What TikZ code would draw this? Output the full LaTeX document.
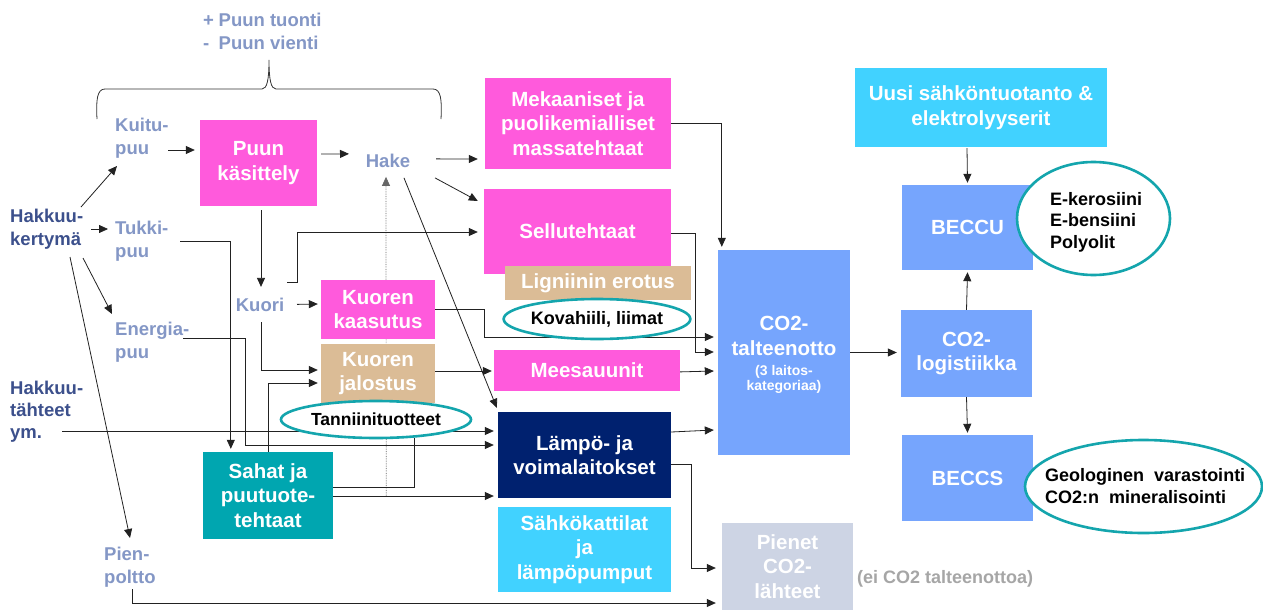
\documentclass[tikz,border=0pt]{standalone}
\usepackage{fontspec}
\setmainfont{Liberation Sans}
\usetikzlibrary{arrows.meta,shapes.geometric}
\definecolor{cMag}{HTML}{FF5ADC}
\definecolor{cTan}{HTML}{DBBC96}
\definecolor{cNavy}{HTML}{00216F}
\definecolor{cCyan}{HTML}{41D2FF}
\definecolor{cTeal}{HTML}{00A6B0}
\definecolor{cBlue}{HTML}{76A5FD}
\definecolor{cPale}{HTML}{CDD4E4}
\definecolor{cRing}{HTML}{14A5AD}
\definecolor{cLbl}{HTML}{8497C6}
\definecolor{cDark}{HTML}{3C508C}
\definecolor{cGrayT}{HTML}{A6A6A6}
\definecolor{cLine}{HTML}{222222}
\pgfdeclarelayer{bg}
\pgfsetlayers{bg,main}
\begin{document}
\begin{tikzpicture}[x=1pt,y=-1pt,
  box/.style={inner sep=0pt, align=center, text=white, font=\bfseries\fontsize{20.5}{24.5}\selectfont},
  lbl/.style={inner sep=0pt, align=left, text=cLbl, font=\bfseries\fontsize{18.5}{22.5}\selectfont, anchor=west},
  dlbl/.style={lbl, text=cDark},
  ring/.style={ellipse, draw=cRing, line width=2.6pt, fill=white, inner sep=0pt},
  ringtxt/.style={inner sep=0pt, align=left, text=black, font=\bfseries\fontsize{18}{21.5}\selectfont},
  arr/.style={draw=cLine, line width=0.8pt, -{Triangle[length=9pt,width=8pt]}},
  plain/.style={draw=cLine, line width=0.8pt},
  dots/.style={draw=black!60, line width=0.7pt, densely dotted, -{Triangle[length=9pt,width=8pt]}}
]
\path[use as bounding box] (0,0) rectangle (1263,610);

% ---------- labels ----------
\node[lbl, anchor=west] (tuonti) at (203,31.5) {\makebox[15.5pt][l]{+}Puun tuonti\\\makebox[15.5pt][l]{-}Puun vienti};
\draw[plain, draw=black!80] (97,119) .. controls (96,100) and (97,89) .. (105,89) -- (262,89) .. controls (267,89) and (269,80) .. (269,60) .. controls (269,80) and (271,89) .. (276,89) -- (433,89) .. controls (441,89) and (442,100) .. (441,119);

\node[dlbl] (hk1) at (10,229) {Hakkuu-\\kertymä};
\node[dlbl, font=\bfseries\fontsize{18.5}{22}\selectfont] (hk2) at (10,412) {Hakkuu-\\tähteet\\ym.};
\node[lbl] (kuitu) at (115,138) {Kuitu-\\puu};
\node[lbl] (tukki) at (115,241) {Tukki-\\puu};
\node[lbl] (energia) at (115,342) {Energia-\\puu};
\node[lbl] (pien) at (104,567) {Pien-\\poltto};
\node[lbl, anchor=base] (hake) at (388,167) {Hake};
\node[lbl, anchor=base] (kuori) at (260,311) {Kuori};

% ---------- boxes ----------
\node[box, fill=cMag, minimum width=117pt, minimum height=86pt] (puu) at (258.5,163) {Puun\\käsittely};
\node[box, fill=cMag, minimum width=186pt, minimum height=91pt] (mek) at (578,123.5) {Mekaaniset ja\\puolikemialliset\\massatehtaat};
\node[box, fill=cMag, minimum width=187pt, minimum height=85pt] (sellu) at (577.5,231.5) {Sellutehtaat};
\node[box, fill=cTan, minimum width=186pt, minimum height=34pt] (lign) at (598,283) {Ligniinin erotus};
\node[ring, minimum width=168pt, minimum height=40pt, font=\bfseries\fontsize{18}{21}\selectfont] (kova) at (597,319) {Kovahiili, liimat};
\node[box, fill=cMag, minimum width=114pt, minimum height=59pt] (kkaas) at (378,309.5) {Kuoren\\kaasutus};
\node[box, fill=cTan, minimum width=114pt, minimum height=59pt] (kjal) at (378,373.5) {Kuoren\\jalostus};
\node[ring, minimum width=190pt, minimum height=37pt, font=\bfseries\fontsize{17.5}{21}\selectfont] (tanni) at (376,419.5) {Tanniinituotteet};
\node[box, fill=cMag, minimum width=186pt, minimum height=41pt] (mees) at (587,370.5) {Meesauunit};
\node[box, fill=cNavy, minimum width=173pt, minimum height=86pt] (lampo) at (584.5,455) {Lämpö- ja\\voimalaitokset};
\node[box, fill=cCyan, minimum width=173pt, minimum height=85pt] (sahko) at (584.5,549.5) {Sähkökattilat\\ja\\lämpöpumput};
\node[box, fill=cTeal, minimum width=130pt, minimum height=87pt] (sahat) at (268,495.5) {Sahat ja\\puutuote-\\tehtaat};
\node[box, fill=cBlue, minimum width=132pt, minimum height=205pt] (co2t) at (784,352.5) {};
\node[box] (co2ta) at (784,336) {CO2-\\talteenotto};
\node[box, font=\bfseries\fontsize{14}{15}\selectfont] (co2tb) at (784,379) {(3 laitos-\\kategoriaa)};
\node[box, fill=cPale, minimum width=131pt, minimum height=87pt] (pienet) at (787.5,566.5) {Pienet\\CO2-\\lähteet};
\node[lbl, anchor=base west, text=cGrayT, font=\bfseries\fontsize{18}{22}\selectfont] (eico) at (857,583) {(ei CO2 talteenottoa)};
\node[box, fill=cCyan, minimum width=252pt, minimum height=79pt] (uusi) at (981,107.5) {Uusi sähköntuotanto \&\\elektrolyyserit};
\node[box, fill=cBlue, minimum width=131pt, minimum height=85pt] (beccu) at (967.5,227.5) {BECCU};
\node[ring, minimum width=153pt, minimum height=113pt] (ring1) at (1093.5,218.5) {};
\node[ringtxt, anchor=west] (ring1t) at (1050,222) {E-kerosiini\\E-bensiini\\Polyolit};
\node[box, fill=cBlue, minimum width=131pt, minimum height=87pt] (co2l) at (966.5,353.5) {CO2-\\logistiikka};
\node[box, fill=cBlue, minimum width=131pt, minimum height=86pt] (beccs) at (967.5,478) {BECCS};
\node[ring, minimum width=237pt, minimum height=93pt] (ring2) at (1143.5,486.5) {};
\node[ringtxt, anchor=west] (ring2t) at (1045,486) {Geologinen\ \ varastointi\\CO2:n\ \ mineralisointi};

% ---------- connectors ----------
\begin{pgfonlayer}{bg}
\fill[white] (0,0) rectangle (1263,610);
\draw[dots] ([shift={(53,0.5)}]sahat.east) -- ([shift={(-2,16.5)}]hake.center);
\draw[arr] ([shift={(71,-22)}]hk1.west) -- ([shift={(2,28)}]kuitu.west);
\draw[arr] ([shift={(81,0)}]hk1.west) -- ([shift={(-7,-12)}]tukki.west);
\draw[arr] ([shift={(73,29)}]hk1.west) -- ([shift={(-3,-28)}]energia.west);
\draw[arr] ([shift={(60,28)}]hk1.west) -- ([shift={(26,-29)}]pien.west);
\draw[arr] ([shift={(53,12)}]kuitu.west) -- ([shift={(-5,-13)}]puu.west);
\draw[arr] ([shift={(4,-9)}]puu.east) -- ([shift={(-39,-6.5)}]hake.center);
\draw[arr] ([shift={(48,-1.5)}]hake.center) -- ([shift={(-7,35.5)}]mek.west);
\draw[arr] ([shift={(47,17.5)}]hake.center) -- ([shift={(-6,-30.5)}]sellu.west);
\draw[arr] ([shift={(16,17.5)}]hake.center) -- ([shift={(-1,-4)}]lampo.north west);
\draw[arr] ([shift={(2.5,4)}]puu.south) -- ([shift={(1,-17.5)}]kuori.center);
\draw[arr] ([shift={(27,-22)}]kuori.center) -- ++(10,0) |- ([shift={(-6,0.5)}]sellu.west);
\draw[arr] ([shift={(37,0)}]kuori.center) -- ([shift={(-3,-5.5)}]kkaas.west);
\draw[arr] ([shift={(1,18)}]kuori.center) |- ([shift={(-3,-3.5)}]kjal.west);
\draw[arr] (kkaas.east) -- ++(49,0) |- ([shift={(-4,-15.5)}]co2t.west);
\draw[arr] ([shift={(0,1.5)}]sellu.east) -- ++(24,0) |- ([shift={(-4,-0.5)}]co2t.west);
\draw[arr] (mek.east) -| ([shift={(4,-3)}]co2t.north west);
\draw[arr] ([shift={(-4,1.5)}]mees.east) -- ([shift={(-4,18.5)}]co2t.west);
\draw[arr] ([shift={(0,-2.5)}]kjal.east) -- ([shift={(-2,0.5)}]mees.west);
\draw[arr] ([shift={(65,0)}]tukki.west) -| ([shift={(28,-3)}]sahat.north west);
\draw[arr] ([shift={(68,-4)}]energia.west) -- ++(62,0) |- ([shift={(-4,-10)}]lampo.west);
\draw[arr] ([shift={(52,19)}]hk2.west) -- ([shift={(-4,-24)}]lampo.west);
\draw[arr] (sahat.north) |- ([shift={(-3,9.5)}]kjal.west);
\draw[plain] ([shift={(0,-8.5)}]sahat.east) -| ([shift={(38,-1)}]tanni.south);
\draw[arr] ([shift={(0,0.5)}]sahat.east) -- ([shift={(-4,41)}]lampo.west);
\draw[arr] ([shift={(0,-23)}]lampo.east) -- ([shift={(-4,77.5)}]co2t.west);
\draw[arr] ([shift={(-3,9)}]lampo.east) -- ++(23,0) |- ([shift={(-6,1.5)}]pienet.west);
\draw[arr] ([shift={(28,22)}]pien.west) |- ([shift={(-6,36.5)}]pienet.west);
\draw[arr] (co2t.east) -- ([shift={(-4,-1)}]co2l.west);
\draw[arr] ([shift={(-14,1)}]uusi.south) -- ([shift={(0,-2)}]beccu.north);
\draw[arr] (co2l.north) -- ([shift={(0,2)}]beccu.south);
\draw[arr] (co2l.south) -- ([shift={(0,-2)}]beccs.north);
\end{pgfonlayer}
\end{tikzpicture}
\end{document}
